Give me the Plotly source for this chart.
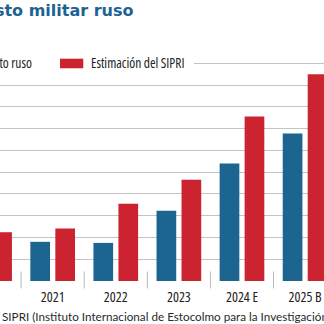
import plotly.graph_objects as go

# Gasto militar de Rusia (billones de rublos)
categorias = ["2020", "2021", "2022", "2023", "2024 E", "2025 B"]
gasto_ruso = [3.2, 3.6, 3.5, 6.46, 10.8, 13.56]
estimacion_sipri = [4.48, 4.82, 7.1, 9.3, 15.1, 19.0]

AZUL = "#1b6590"
ROJO = "#cc2331"
W, H = 324, 324
MT, MB = 52, 42.5
PLOT_H = H - MT - MB
BASE_Y = H - MB

COND_FONT = "Open Sans"
SRC_FONT = "Lato"
TITLE_FONT = "DejaVu Sans"


def px_x(x):
    return x / W


def px_y(y):
    return (BASE_Y - y) / PLOT_H


fig = go.Figure()
fig.add_trace(go.Bar(x=categorias, y=gasto_ruso, name="Gasto ruso",
                     marker=dict(color=AZUL, line=dict(width=0))))
fig.add_trace(go.Bar(x=categorias, y=estimacion_sipri, name="Estimación del SIPRI",
                     marker=dict(color=ROJO, line=dict(width=0))))

shapes = []
# separadores entre años
for i in range(len(categorias) - 1):
    shapes.append(dict(type="line", xref="x", yref="paper",
                       x0=i + 0.5, x1=i + 0.5, y0=px_y(272), y1=px_y(289),
                       line=dict(color="#b8b8b8", width=1)))
# fondo blanco de la leyenda sobre la línea superior
shapes.append(dict(type="rect", xref="paper", yref="paper", layer="above",
                   x0=px_x(-70), x1=px_x(194), y0=px_y(68), y1=px_y(57),
                   fillcolor="white", line=dict(width=0)))
# claves de la leyenda
shapes.append(dict(type="rect", xref="paper", yref="paper", layer="above",
                   x0=px_x(-50), x1=px_x(-27), y0=px_y(68.3), y1=px_y(58.7),
                   fillcolor=AZUL, line=dict(width=0)))
shapes.append(dict(type="rect", xref="paper", yref="paper", layer="above",
                   x0=px_x(60), x1=px_x(83.3), y0=px_y(68.3), y1=px_y(58.7),
                   fillcolor=ROJO, line=dict(width=0)))

annotations = [
    dict(text="<b>Gasto militar ruso</b>", xref="paper", yref="paper",
         x=px_x(-31), y=px_y(10), xanchor="left", yanchor="middle", showarrow=False,
         font=dict(family=TITLE_FONT, size=16, color="#1d6292")),
    dict(text="Gasto ruso", xref="paper", yref="paper",
         x=px_x(-20), y=px_y(63), xanchor="left", yanchor="middle", showarrow=False,
         font=dict(family=COND_FONT, size=13.5, color="#222222")),
    dict(text="Estimación del SIPRI", xref="paper", yref="paper",
         x=px_x(89), y=px_y(63), xanchor="left", yanchor="middle", showarrow=False,
         font=dict(family=COND_FONT, size=13.5, color="#222222")),
    dict(text="Fuente:", xref="paper", yref="paper",
         x=px_x(-4), y=px_y(317), xanchor="right", yanchor="middle", showarrow=False,
         font=dict(family=SRC_FONT, size=11.7, color="#2a2a2a")),
    dict(text="SIPRI (Instituto Internacional de Estocolmo para la Investigación para la Paz)",
         xref="paper", yref="paper",
         x=px_x(0), y=px_y(317), xanchor="left", yanchor="middle", showarrow=False,
         font=dict(family=SRC_FONT, size=11.7, color="#2a2a2a")),
]

fig.update_layout(
    width=W, height=H,
    margin=dict(l=0, r=0, t=MT, b=MB, pad=0),
    paper_bgcolor="white", plot_bgcolor="white",
    barmode="group", bargap=0.208, bargroupgap=0.212,
    showlegend=False,
    shapes=shapes, annotations=annotations,
    xaxis=dict(type="category", range=[0.165, 5.30], showgrid=False, zeroline=False,
               showline=False, ticks="", ticklabelstandoff=6,
               tickfont=dict(family=COND_FONT, size=14, color="#222222")),
    yaxis=dict(range=[0, PLOT_H / 10.91], tickvals=list(range(2, 21, 2)),
               showticklabels=False, showgrid=True, gridcolor="#c4c4c4", gridwidth=1,
               zeroline=False, showline=False),
)

# letra estrecha (ancho 75 %) para años y leyenda; al cambiar la familia
# se vuelven a medir los textos ya con el ancho reducido
condensed = """
var st = document.createElement('style');
st.textContent = "text[style*='Open Sans'] { font-stretch: 75%; }";
document.head.appendChild(st);
var gd = document.getElementById('{plot_id}');
var upd = {'xaxis.tickfont.family': 'Open Sans, sans-serif'};
gd.layout.annotations.forEach(function (a, i) {
  if (a.font && a.font.family === 'Open Sans') {
    upd['annotations[' + i + '].font.family'] = 'Open Sans, sans-serif';
  }
});
return Plotly.relayout(gd, upd);
"""

fig.write_html("out.html", post_script=condensed)
